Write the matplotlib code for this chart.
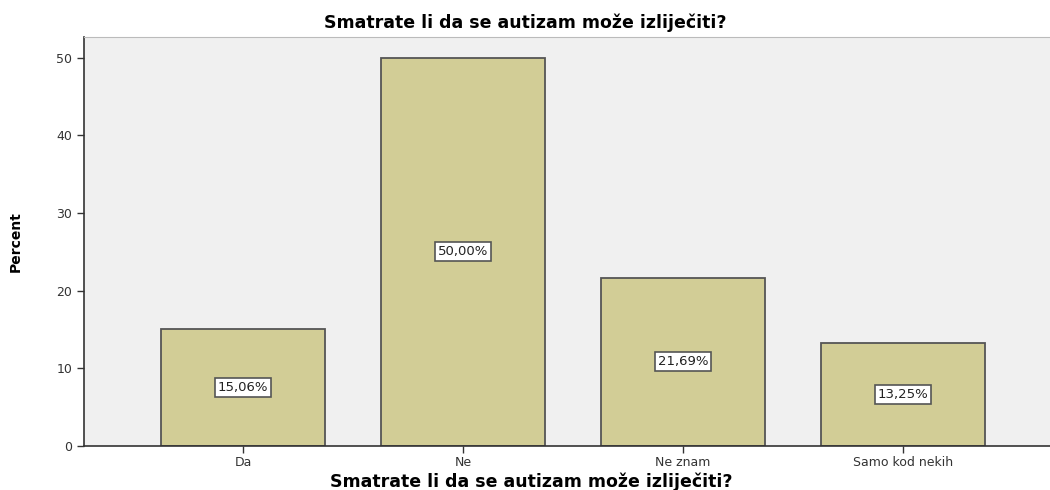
import matplotlib
matplotlib.use("Agg")
import matplotlib.pyplot as plt

categories = ["Da", "Ne", "Ne znam", "Samo kod nekih"]
percent = [15.06, 50.00, 21.69, 13.25]
value_labels = ["15,06%", "50,00%", "21,69%", "13,25%"]
y_ticks = [0, 10, 20, 30, 40, 50]
title = "Smatrate li da se autizam može izliječiti?"

fig = plt.figure(figsize=(10.5, 4.9), dpi=100)
ax = fig.add_axes([0.08, 0.09, 0.92, 0.835])
ax.set_facecolor("#f0f0f0")

x = list(range(len(categories)))
ax.bar(x, percent, width=0.745, color="#d2cd96", edgecolor="#555555", linewidth=1.3, zorder=2)

for xi, v, lab in zip(x, percent, value_labels):
    ax.text(xi, v / 2, lab, ha="center", va="center", fontsize=9.5, color="#222222",
            bbox=dict(boxstyle="square,pad=0.22", facecolor="white", edgecolor="#555555", linewidth=1.2),
            zorder=3)

ax.set_xlim(-0.723, 3.668)
ax.set_ylim(0, 52.7)
ax.set_yticks(y_ticks)
ax.set_xticks(x)
ax.set_xticklabels(categories, fontsize=9, color="#333333")
ax.tick_params(axis="y", labelsize=9, labelcolor="#333333", length=5, width=1, color="#333333")
ax.tick_params(axis="x", length=5, width=1, color="#333333", pad=2)

for side in ["left", "bottom"]:
    ax.spines[side].set_color("#333333")
    ax.spines[side].set_linewidth(1.2)
ax.spines["top"].set_color("#bbbbbb")
ax.spines["right"].set_visible(False)

ax.set_title(title, fontsize=12.5, fontweight="bold", pad=6, x=0.4565)
ax.set_xlabel(title, fontsize=12.5, fontweight="bold", labelpad=3, x=0.463)
ax.set_ylabel("Percent", fontsize=10, fontweight="bold", labelpad=24)

fig.savefig("out.png", dpi=100, facecolor="white")
